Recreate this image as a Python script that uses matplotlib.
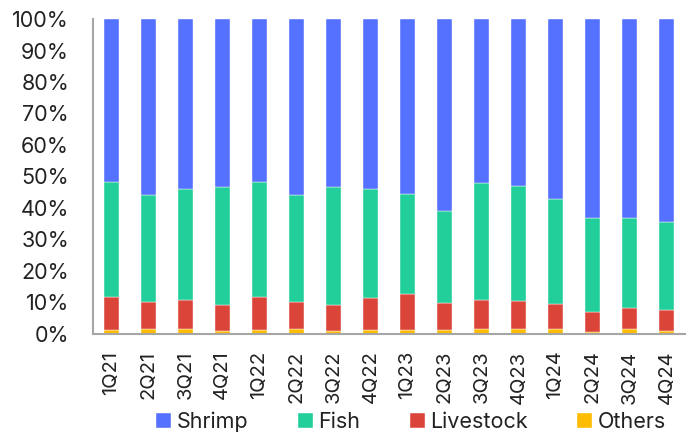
import numpy as np
import matplotlib.pyplot as plt
from matplotlib.ticker import PercentFormatter

plt.rcParams['font.family'] = ['Inter', 'DejaVu Sans']

quarters = ['1Q21', '2Q21', '3Q21', '4Q21', '1Q22', '2Q22', '3Q22', '4Q22',
            '1Q23', '2Q23', '3Q23', '4Q23', '1Q24', '2Q24', '3Q24', '4Q24']

# share of volume by segment, % of total
others = np.array([1.4, 1.6, 1.6, 1.0, 1.4, 1.6, 1.0, 1.4,
                   1.3, 1.2, 1.5, 1.7, 1.7, 0.5, 1.7, 1.0])
livestock = np.array([10.4, 8.4, 9.2, 8.3, 10.4, 8.4, 8.3, 9.9,
                      11.4, 8.5, 9.3, 8.7, 7.8, 6.5, 6.6, 6.5])
fish = np.array([36.3, 34.1, 35.1, 37.4, 36.4, 34.1, 37.4, 34.7,
                 31.7, 29.4, 37.1, 36.7, 33.5, 29.9, 28.6, 28.1])
shrimp = 100 - others - livestock - fish

segments = [('Shrimp', shrimp, '#5571ff'),
            ('Fish', fish, '#22ce9a'),
            ('Livestock', livestock, '#db4539'),
            ('Others', others, '#ffbc00')]

fig = plt.figure(figsize=(6.92, 4.32), dpi=100)
ax = fig.add_axes([0.134, 0.227, 0.856, 0.729])

x = np.arange(len(quarters))
bottom = np.zeros(len(quarters))
bars = {}
# stack from the bottom up: others, livestock, fish, shrimp
for name, vals, color in reversed(segments):
    bars[name] = ax.bar(x, vals, 0.4, bottom=bottom, color=color,
                        edgecolor='white', linewidth=0.3)
    bottom += vals

ax.set_xlim(-0.5, 15.5)
ax.set_ylim(0, 100)
ax.set_yticks(np.arange(0, 101, 10))
ax.yaxis.set_major_formatter(PercentFormatter(decimals=0))
ax.set_xticks(x)
ax.set_xticklabels(quarters, rotation=90)
ax.tick_params(length=0, colors='#222222')
ax.tick_params(axis='y', pad=17, labelsize=15.5)
ax.tick_params(axis='x', pad=12, labelsize=14.5)

for side in ['top', 'right']:
    ax.spines[side].set_visible(False)
for side in ['left', 'bottom']:
    ax.spines[side].set_color('#a6a6a6')
    ax.spines[side].set_linewidth(1.5)

fig.legend([bars[n] for n, _, _ in segments], [n for n, _, _ in segments],
           loc='lower center', bbox_to_anchor=(0.594, -0.01), ncol=4,
           borderaxespad=0, borderpad=0.2,
           frameon=False, fontsize=15.5, handlelength=0.7, handleheight=0.7,
           handletextpad=0.25, columnspacing=2.3, labelcolor='#222222')

fig.savefig('out.png', dpi=100)
